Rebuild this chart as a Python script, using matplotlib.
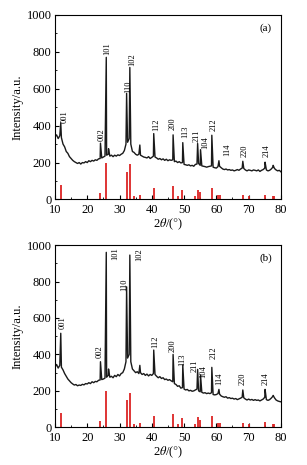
import numpy as np
import matplotlib.pyplot as plt
from matplotlib.ticker import MultipleLocator

plt.rcParams['font.family'] = ['Liberation Serif', 'DejaVu Serif']
plt.rcParams['mathtext.fontset'] = 'stix'

# background of measured patterns, sampled every 0.5 deg from 10 to 80
bg_x = np.arange(10, 80.01, 0.5)
bg_a = [340, 350, 330, 345, 335, 300, 285, 260, 250, 232,
        222, 212, 205, 200, 195, 200, 192, 200, 198, 205,
        200, 210, 205, 212, 208, 215, 212, 220, 222, 225,
        230, 235, 240, 245, 235, 240, 232, 240, 235, 242,
        238, 245, 250, 265, 300, 310, 330, 300, 260, 255,
        245, 240, 245, 240, 235, 230, 228, 225, 232, 222,
        228, 235, 230, 225, 218, 222, 215, 220, 212, 218,
        210, 215, 212, 215, 205, 208, 200, 205, 198, 200,
        190, 188, 185, 188, 182, 185, 180, 190, 192, 195,
        185, 182, 180, 178, 175, 178, 180, 182, 175, 172,
        170, 178, 180, 172, 165, 162, 165, 160, 162, 158,
        160, 155, 158, 162, 158, 165, 170, 168, 160, 155,
        160, 158, 155, 160, 158, 155, 160, 152, 158, 162,
        170, 160, 155, 158, 165, 175, 168, 160, 155, 158,
        150]
bg_b = [330, 345, 325, 340, 330, 315, 295, 280, 265, 255,
        245, 238, 232, 235, 228, 232, 230, 236, 233, 240,
        238, 245, 240, 250, 245, 252, 250, 258, 260, 262,
        265, 270, 275, 285, 275, 280, 272, 285, 278, 290,
        282, 295, 300, 320, 360, 380, 400, 360, 320, 310,
        300, 305, 295, 300, 290, 295, 285, 292, 282, 290,
        285, 295, 290, 280, 272, 278, 268, 272, 262, 265,
        258, 262, 255, 250, 240, 235, 225, 228, 215, 218,
        210, 205, 208, 200, 203, 198, 200, 205, 210, 200,
        195, 192, 188, 190, 185, 188, 185, 190, 180, 178,
        180, 185, 182, 172, 168, 165, 168, 160, 163, 158,
        160, 155, 158, 152, 156, 160, 165, 162, 155, 150,
        155, 150, 153, 148, 152, 148, 150, 145, 150, 155,
        165, 152, 148, 152, 160, 170, 162, 150, 145, 142,
        140]

# peak tips (2theta, intensity)
pk_pos = [11.8, 24.1, 25.9, 26.6, 32.2, 33.2, 36.3, 40.6, 46.6, 49.6,
          54.2, 55.1, 58.6, 60.8, 68.2, 75.1, 77.6]
pk_a = [415, 305, 770, 275, 575, 715, 295, 357, 350, 308,
        303, 270, 348, 210, 207, 202, 185]
pk_b = [516, 360, 960, 320, 771, 945, 340, 424, 400, 342,
        318, 287, 329, 208, 205, 208, 175]

# standard card (red sticks)
ref_pos = [11.8, 24.0, 25.9, 32.2, 33.2, 34.5, 36.3, 40.6, 46.5, 48.0,
           49.5, 53.5, 54.2, 55.0, 58.6, 60.5, 61.0, 68.2, 70.0, 75.0,
           77.5, 78.0]
ref_int = [81, 34, 200, 150, 190, 18, 23, 63, 72, 18,
           52, 20, 54, 38, 63, 25, 23, 23, 18, 27,
           18, 18]

hkl = ['001', '002', '101', '110', '102', '112', '200', '113', '211',
       '104', '212', '114', '220', '214']
lab_a_x = [12.9, 24.5, 26.3, 32.6, 34.1, 41.3, 46.6, 50.3, 53.9, 56.6, 59.2, 63.4, 68.8, 75.5]
lab_a_y = [451, 349, 818, 611, 758, 403, 408, 365, 343, 310, 403, 267, 263, 266]
lab_b_x = [12.5, 23.9, 28.6, 31.6, 36.0, 41.0, 46.5, 49.5, 53.2, 55.9, 59.0, 60.9, 68.0, 75.3]
lab_b_y = [575, 413, 952, 781, 945, 471, 446, 370, 337, 306, 407, 265, 265, 265]


def build_curve(bg, pk):
    x = np.concatenate([bg_x, pk_pos])
    y = np.concatenate([bg, pk])
    order = np.argsort(x)
    return x[order], y[order]


fig = plt.figure(figsize=(3.07, 4.65), dpi=100)
ax_a = fig.add_axes([0.179, 0.571, 0.736, 0.397])
ax_b = fig.add_axes([0.179, 0.081, 0.736, 0.392])

panels = [(ax_a, bg_a, pk_a, lab_a_x, lab_a_y, '(a)'),
          (ax_b, bg_b, pk_b, lab_b_x, lab_b_y, '(b)')]

for ax, bg, pk, lx, ly, tag in panels:
    x, y = build_curve(bg, pk)
    ax.plot(x, y, color='#1a1a1a', lw=1.0)
    ax.vlines(ref_pos, 0, ref_int, color='#dc2424', lw=1.3)
    for t, px, py in zip(hkl, lx, ly):
        ax.text(px, py, t, rotation=90, ha='center', va='center', fontsize=6)
    ax.text(0.96, 0.93, tag, transform=ax.transAxes, ha='right', va='center', fontsize=8)
    ax.set_xlim(10, 80)
    ax.set_ylim(0, 1000)
    ax.xaxis.set_major_locator(MultipleLocator(10))
    ax.xaxis.set_minor_locator(MultipleLocator(5))
    ax.yaxis.set_major_locator(MultipleLocator(200))
    ax.yaxis.set_minor_locator(MultipleLocator(100))
    ax.tick_params(which='both', direction='in', labelsize=9)
    ax.tick_params(axis='x', pad=3.5)
    ax.tick_params(axis='y', pad=2.5)
    ax.tick_params(which='major', length=3)
    ax.tick_params(which='minor', length=1.5)
    for s in ax.spines.values():
        s.set_linewidth(0.8)
    ax.set_ylabel('Intensity/a.u.', fontsize=9, labelpad=2)
    ax.set_xlabel(r'2$\it{\theta}$/($\degree$)', fontsize=9, labelpad=0)

fig.savefig('out.png', dpi=100)
